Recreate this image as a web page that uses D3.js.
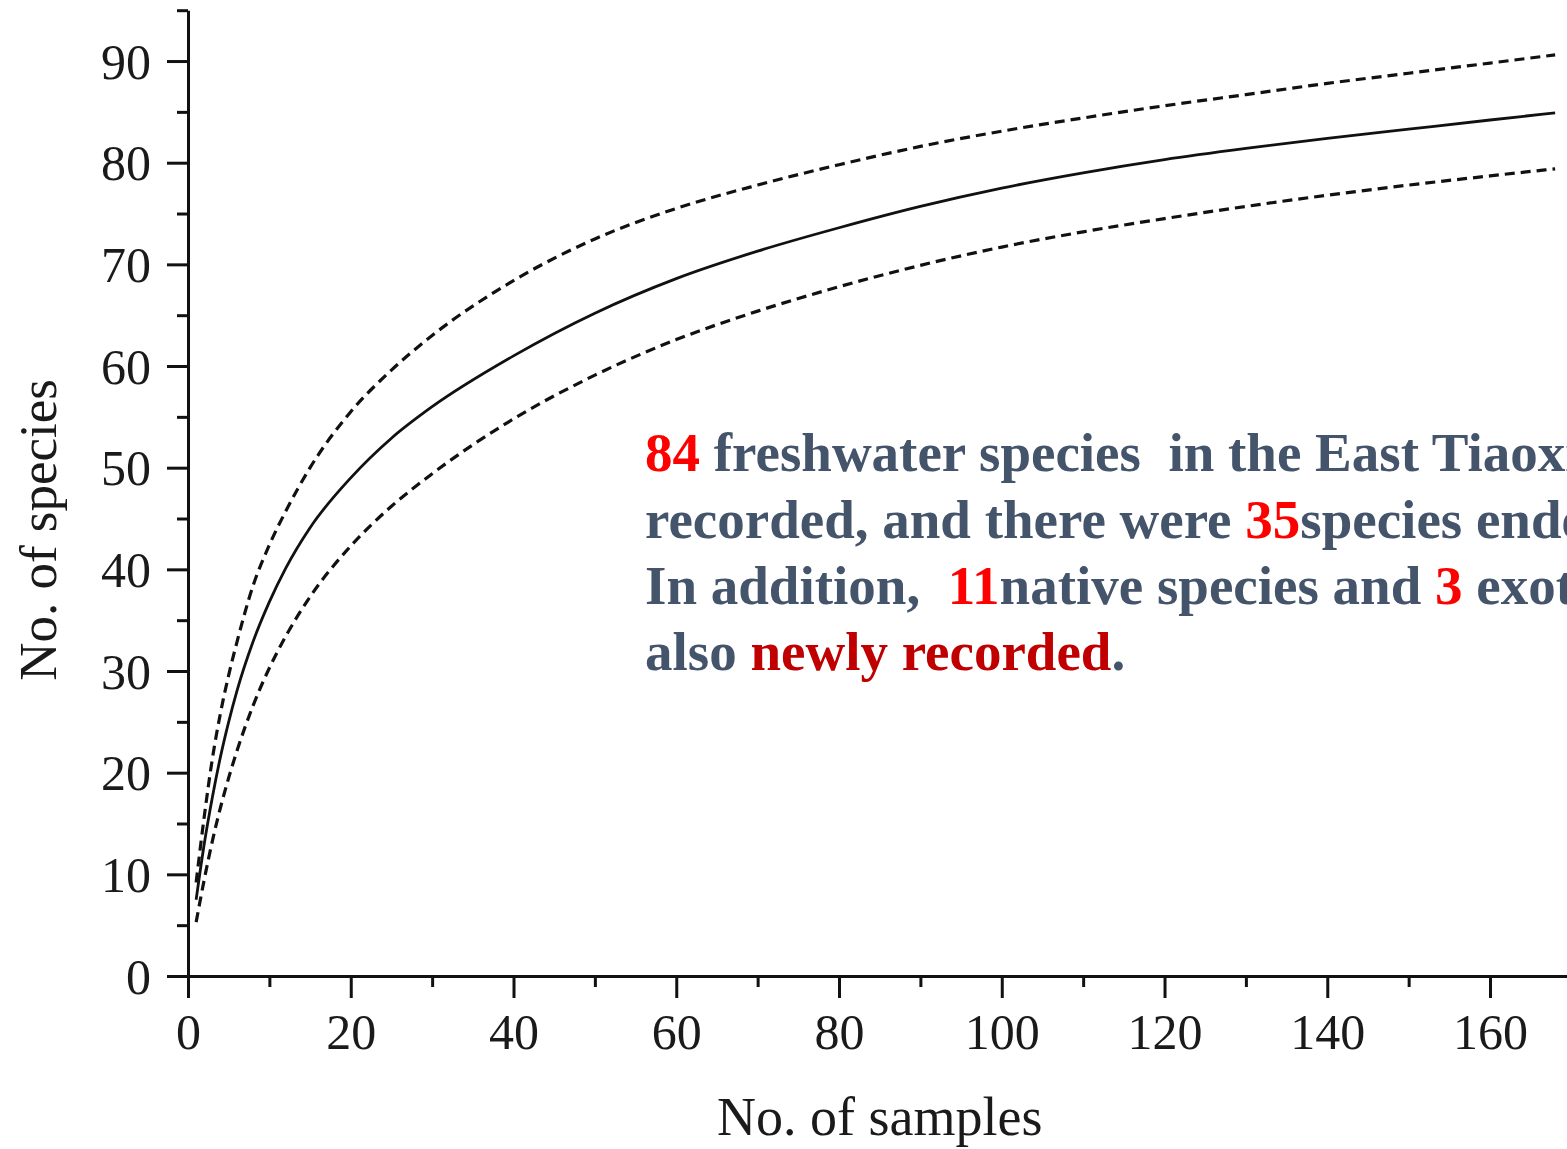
<!DOCTYPE html>
<html>
<head>
<meta charset="utf-8">
<script src="https://cdn.jsdelivr.net/npm/d3@7/dist/d3.min.js"></script>
<style>
  html, body { margin: 0; padding: 0; background: #ffffff; }
  svg { display: block; }
  .note { font-family: "Liberation Serif", "Times New Roman", serif; font-weight: bold; font-size: 55px; white-space: pre; }
</style>
</head>
<body>
<svg id="chart" width="1567" height="1149"></svg>
<script>
// Sample-based species accumulation curve with 95% confidence bounds
const samples = [1, 2, 3, 4, 5, 6, 8, 10, 12, 15, 20, 25, 30, 40, 50, 60, 70, 80, 90, 100, 110, 120, 130, 140, 150, 160, 168];
const speciesMean = [7.5, 13.0, 17.6, 21.6, 25.0, 28.0, 32.9, 36.8, 40.1, 44.1, 49.0, 52.9, 56.0, 61.0, 65.2, 68.6, 71.3, 73.6, 75.7, 77.5, 79.0, 80.3, 81.4, 82.4, 83.3, 84.2, 84.9];
const speciesUpper = [9.2, 15.7, 21.4, 25.9, 29.6, 32.8, 38.4, 42.4, 45.7, 50.0, 55.5, 59.6, 63.0, 68.4, 72.5, 75.5, 77.8, 79.8, 81.6, 83.1, 84.4, 85.6, 86.7, 87.8, 88.8, 89.8, 90.6];
const speciesLower = [5.3, 9.5, 13.3, 16.6, 19.5, 22.1, 26.6, 30.3, 33.4, 37.3, 42.3, 46.2, 49.4, 54.8, 59.1, 62.6, 65.4, 67.8, 69.9, 71.7, 73.2, 74.5, 75.7, 76.8, 77.8, 78.7, 79.4];

const xMajorTicks = [0, 20, 40, 60, 80, 100, 120, 140, 160];
const xMinorTicks = [10, 30, 50, 70, 90, 110, 130, 150, 170];
const yMajorTicks = [0, 10, 20, 30, 40, 50, 60, 70, 80, 90];
const yMinorTicks = [5, 15, 25, 35, 45, 55, 65, 75, 85, 95];

const xTitle = "No. of samples";
const yTitle = "No. of species";

// Annotation lines: each is a list of [text, colour] runs
const noteLines = [
  [["84", "#ff0000"], [" freshwater species  in the East Tiaoxi River were", "#44546a"]],
  [["recorded, and there were ", "#44546a"], ["35", "#ff0000"], ["species endemic to China.", "#44546a"]],
  [["In addition,  ", "#44546a"], ["11", "#ff0000"], ["native species and ", "#44546a"], ["3", "#ff0000"], [" exotic species were", "#44546a"]],
  [["also ", "#44546a"], ["newly recorded", "#c00000"], [".", "#44546a"]]
];

const svg = d3.select("#chart");
const serif = '"Liberation Serif", "Times New Roman", serif';
const ink = "#111111";

const x = d3.scaleLinear().domain([0, 170]).range([188, 1571.4]);
const y = d3.scaleLinear().domain([0, 95]).range([976, 10.2]);

// Axes: major ticks with labels, minor ticks without
function styleAxis(g) {
  g.select(".domain").attr("stroke", ink).attr("stroke-width", 3);
  g.selectAll(".tick line").attr("stroke", ink).attr("stroke-width", 3);
  g.selectAll(".tick text").attr("fill", "#1a1a1a").style("font-family", serif).style("font-size", "50px");
}

const xAxisG = svg.append("g").attr("transform", `translate(0,${y(0)})`);
xAxisG.call(d3.axisBottom(x).tickValues(xMinorTicks).tickSize(11).tickSizeOuter(0).tickFormat(""));
styleAxis(xAxisG);
const xAxisMajor = svg.append("g").attr("transform", `translate(0,${y(0)})`);
xAxisMajor.call(d3.axisBottom(x).tickValues(xMajorTicks).tickSize(22).tickSizeOuter(0).tickPadding(15).tickFormat(d3.format("d")));
styleAxis(xAxisMajor);
xAxisMajor.select(".domain").remove();

const yAxisG = svg.append("g").attr("transform", `translate(${x(0)},0)`);
yAxisG.call(d3.axisLeft(y).tickValues(yMinorTicks).tickSize(11).tickSizeOuter(0).tickFormat(""));
styleAxis(yAxisG);
const yAxisMajor = svg.append("g").attr("transform", `translate(${x(0)},0)`);
yAxisMajor.call(d3.axisLeft(y).tickValues(yMajorTicks).tickSize(21).tickSizeOuter(0).tickPadding(16).tickFormat(d3.format("d")));
styleAxis(yAxisMajor);
yAxisMajor.select(".domain").remove();
yAxisMajor.selectAll(".tick text").attr("dy", "0.34em");

// Axis titles
svg.append("text")
  .attr("x", x(85)).attr("y", 1135)
  .attr("text-anchor", "middle")
  .style("font-family", serif).style("font-size", "54px").attr("fill", "#1a1a1a")
  .text(xTitle);

svg.append("text")
  .attr("transform", "translate(56,530) rotate(-90)")
  .attr("text-anchor", "middle")
  .style("font-family", serif).style("font-size", "53px").attr("fill", "#1a1a1a")
  .text(yTitle);

// Curves
const line = (vals) => d3.line()
  .x((d, i) => x(samples[i]))
  .y(d => y(d))
  .curve(d3.curveMonotoneX)(vals);

svg.append("path").attr("d", line(speciesUpper))
  .attr("fill", "none").attr("stroke", ink).attr("stroke-width", 3.2)
  .attr("stroke-dasharray", "10,6");
svg.append("path").attr("d", line(speciesLower))
  .attr("fill", "none").attr("stroke", ink).attr("stroke-width", 3.2)
  .attr("stroke-dasharray", "10,6");
svg.append("path").attr("d", line(speciesMean))
  .attr("fill", "none").attr("stroke", ink).attr("stroke-width", 2.8);

// Annotation text
const baselines = [471, 538, 604, 670];
noteLines.forEach((runs, i) => {
  const t = svg.append("text").attr("class", "note").attr("x", 645).attr("y", baselines[i]);
  runs.forEach(([txt, col]) => t.append("tspan").attr("fill", col).text(txt));
});
</script>
</body>
</html>
